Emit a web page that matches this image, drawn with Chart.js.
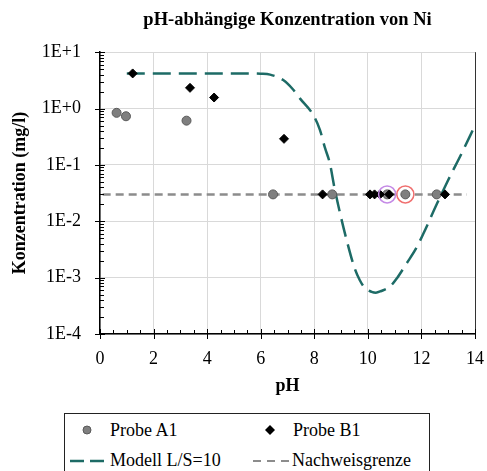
<!DOCTYPE html>
<html>
<head>
<meta charset="utf-8">
<script src="https://cdn.jsdelivr.net/npm/chart.js@4"></script>
<style>
  body { margin: 0; background: #fff; overflow: hidden; }
  #wrap { position: relative; width: 487px; height: 471px; }
  #legend {
    position: absolute; left: 64px; top: 413px; width: 366px; height: 80px;
    border: 1px solid #222; box-sizing: border-box;
    font-family: "Liberation Serif", "Times New Roman", serif; font-size: 18px; color: #000;
  }
  .item { position: absolute; white-space: nowrap; line-height: 18px; }
  .item svg { position: absolute; }
</style>
</head>
<body>
<div id="wrap">
  <canvas id="phChart" width="487" height="400"></canvas>
  <div id="legend">
    <div class="item" style="left:45px; top:7px;">
      <svg width="12" height="12" style="left:-29px; top:3px;"><circle cx="6" cy="6" r="4" fill="#7f7f7f" stroke="#5a5a5a"/></svg>Probe A1</div>
    <div class="item" style="left:228px; top:7px;">
      <svg width="12" height="12" style="left:-29px; top:3px;"><path d="M6 1 L11 6 L6 11 L1 6 Z" fill="#000"/></svg>Probe B1</div>
    <div class="item" style="left:45px; top:37px;">
      <svg width="40" height="12" style="left:-41px; top:4px;"><line x1="1" y1="6" x2="40" y2="6" stroke="#1d6b66" stroke-width="2.5" stroke-dasharray="14 6"/></svg>Modell L/S=10</div>
    <div class="item" style="left:227px; top:37px;">
      <svg width="40" height="12" style="left:-40px; top:4px;"><line x1="1" y1="6" x2="40" y2="6" stroke="#8c8c8c" stroke-width="2" stroke-dasharray="8 6"/></svg>Nachweisgrenze</div>
  </div>
</div>
<script>
// Probe A1 (grey circles)
const probeA1X = [0.62, 0.97, 3.23, 6.46, 8.67, 10.72, 11.4, 12.57];
const probeA1Y = [0.84, 0.73, 0.61, 0.03, 0.03, 0.03, 0.03, 0.03];

// Probe B1 (black diamonds)
const probeB1X = [1.22, 3.36, 4.26, 6.87, 8.31, 10.08, 10.25, 10.45, 10.8, 12.88];
const probeB1Y = [4.2, 2.33, 1.57, 0.29, 0.03, 0.03, 0.03, 0.03, 0.03, 0.03];

// Modell L/S=10
const modelX = [1.0, 5.5, 6.0, 6.35, 6.84, 7.2, 7.47, 7.96, 8.21, 8.4, 8.58, 8.75, 8.96, 9.21, 9.5, 9.7, 9.9, 10.14, 10.3, 10.5, 10.82, 11.1, 11.45, 11.8, 12.07, 12.57, 13.0, 13.5, 14.0];
const modelY = [4.2, 4.2, 4.15, 4.0, 3.2, 2.2, 1.5, 0.77, 0.42, 0.2, 0.107, 0.04, 0.014, 0.0046, 0.0015, 0.0009, 0.00065, 0.00056, 0.00054, 0.00058, 0.00069, 0.001, 0.0018, 0.0033, 0.006, 0.02, 0.054, 0.16, 0.5];

// Nachweisgrenze
const nwgX = [0.1, 13.7];
const nwgY = [0.03, 0.03];

// highlighted points (rings)
const ringPurpleX = [10.72];
const ringPurpleY = [0.03];
const ringRedX = [11.4];
const ringRedY = [0.03];

// axes
const xTicks = [0, 2, 4, 6, 8, 10, 12, 14];
const yTicks = [1e-4, 1e-3, 1e-2, 1e-1, 1, 10];
const yTickLabels = ["1E-4", "1E-3", "1E-2", "1E-1", "1E+0", "1E+1"];

const pts = (xs, ys) => xs.map((x, i) => ({ x: x, y: ys[i] }));
const serif = "'Liberation Serif', 'Times New Roman', serif";
Chart.defaults.font.family = serif;

// tick marks like the original (major crossing, minor inside) + dark right border
const axisDeco = {
    id: "axisDeco",
    afterDraw(chart) {
        const ctx = chart.ctx;
        const { left, right, top, bottom } = chart.chartArea;
        const xs = chart.scales.x, ys = chart.scales.y;
        ctx.save();
        ctx.strokeStyle = "#333";
        ctx.lineWidth = 1;
        ctx.beginPath();
        ctx.moveTo(right + 0.5, top);
        ctx.lineTo(right + 0.5, bottom);
        ctx.stroke();
        ctx.strokeStyle = "#000";
        ctx.beginPath();
        yTicks.forEach((v, i) => {
            const y = Math.round(ys.getPixelForValue(v)) + 0.5;
            ctx.moveTo(left - 5, y);
            ctx.lineTo(left + 5, y);
            if (i < yTicks.length - 1) {
                for (let k = 2; k <= 9; k++) {
                    const ym = Math.round(ys.getPixelForValue(v * k)) + 0.5;
                    ctx.moveTo(left, ym);
                    ctx.lineTo(left + 4, ym);
                }
            }
        });
        xTicks.forEach((v, i) => {
            const x = Math.round(xs.getPixelForValue(v)) + 0.5;
            ctx.moveTo(x, bottom - 5);
            ctx.lineTo(x, bottom + 5);
            if (i < xTicks.length - 1) {
                for (let k = 1; k < 4; k++) {
                    const xm = Math.round(xs.getPixelForValue(v + k * 0.5)) + 0.5;
                    ctx.moveTo(xm, bottom);
                    ctx.lineTo(xm, bottom - 4);
                }
            }
        });
        ctx.stroke();
        ctx.restore();
    }
};

const ctx = document.getElementById("phChart").getContext("2d");
new Chart(ctx, {
    type: "scatter",
    data: {
        datasets: [
            {
                label: "Nachweisgrenze",
                data: pts(nwgX, nwgY),
                showLine: true,
                borderColor: "#8c8c8c",
                borderWidth: 2.5,
                borderDash: [8, 5],
                pointRadius: 0,
                order: 5
            },
            {
                label: "Modell L/S=10",
                data: pts(modelX, modelY),
                showLine: true,
                borderColor: "#1d6b66",
                borderWidth: 2.5,
                borderDash: [18, 8],
                cubicInterpolationMode: "monotone",
                pointRadius: 0,
                order: 4
            },
            {
                label: "Probe A1",
                data: pts(probeA1X, probeA1Y),
                backgroundColor: "#7f7f7f",
                borderColor: "#5a5a5a",
                borderWidth: 1,
                pointRadius: 4.5,
                order: 3
            },
            {
                label: "Probe B1",
                data: pts(probeB1X, probeB1Y),
                pointStyle: "rectRot",
                backgroundColor: "#000",
                borderColor: "#000",
                borderWidth: 1,
                pointRadius: 4.5,
                order: 2
            },
            {
                label: "ring1",
                data: pts(ringPurpleX, ringPurpleY),
                backgroundColor: "rgba(0,0,0,0)",
                borderColor: "#c58be6",
                borderWidth: 1.5,
                pointRadius: 8.5,
                order: 1
            },
            {
                label: "ring2",
                data: pts(ringRedX, ringRedY),
                backgroundColor: "rgba(0,0,0,0)",
                borderColor: "#f07070",
                borderWidth: 1.5,
                pointRadius: 8.5,
                order: 1
            }
        ]
    },
    options: {
        responsive: false,
        animation: false,
        layout: { padding: { left: 0, right: 12, top: 0, bottom: 0 } },
        plugins: {
            legend: { display: false },
            tooltip: { enabled: false },
            title: {
                display: true,
                text: "pH-abhängige Konzentration von Ni",
                fullSize: false,
                color: "#000",
                font: { family: serif, size: 18.5, weight: "bold" },
                padding: { top: 9, bottom: 21 }
            }
        },
        scales: {
            x: {
                type: "linear",
                min: 0,
                max: 14,
                afterBuildTicks: (scale) => { scale.ticks = xTicks.map(v => ({ value: v })); },
                afterFit: (scale) => {
                    scale.height = 66;
                    scale.paddingLeft = 0;
                    scale.paddingRight = 0;
                },
                ticks: {
                    color: "#000",
                    font: { family: serif, size: 18 },
                    padding: 14,
                    maxRotation: 0
                },
                grid: {
                    color: "#d9d9d9",
                    drawTicks: false
                },
                border: { color: "#000", width: 1.5 },
                title: {
                    display: true,
                    text: "pH",
                    color: "#000",
                    font: { family: serif, size: 18, weight: "bold" },
                    padding: { top: 0, bottom: 3 }
                }
            },
            y: {
                type: "logarithmic",
                min: 1e-4,
                max: 10,
                afterBuildTicks: (scale) => { scale.ticks = yTicks.map(v => ({ value: v })); },
                afterFit: (scale) => {
                    scale.width = 100;
                    scale.paddingTop = 0;
                    scale.paddingBottom = 0;
                },
                ticks: {
                    color: "#000",
                    font: { family: serif, size: 18 },
                    padding: 19,
                    callback: (value) => yTickLabels[yTicks.indexOf(value)]
                },
                grid: {
                    color: "#d9d9d9",
                    drawTicks: false
                },
                border: { color: "#000", width: 1.5 },
                title: {
                    display: true,
                    text: "Konzentration (mg/l)",
                    color: "#000",
                    font: { family: serif, size: 18, weight: "bold" },
                    padding: { top: 10, bottom: 0 }
                }
            }
        }
    },
    plugins: [axisDeco]
});
</script>
</body>
</html>
